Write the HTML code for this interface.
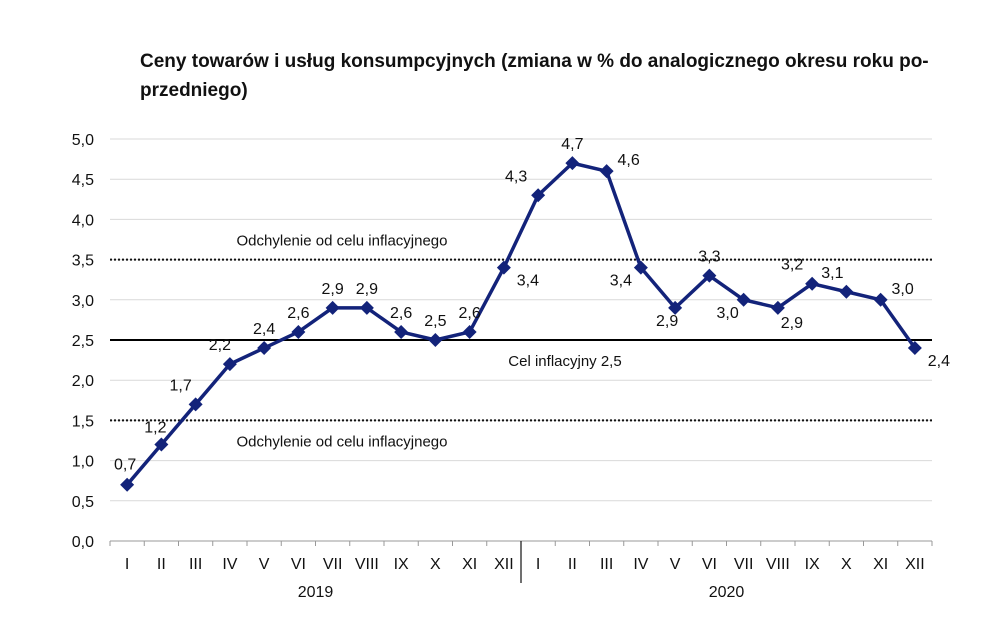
<!DOCTYPE html>
<html><head><meta charset="utf-8">
<style>
body{margin:0;background:#fff;font-family:"Liberation Sans",sans-serif;}
svg text{font-family:"Liberation Sans",sans-serif;}
</style></head>
<body>
<svg width="1000" height="626" viewBox="0 0 1000 626">
<text x="140" y="67" font-size="19" font-weight="bold" fill="#111">Ceny towarów i usług konsumpcyjnych (zmiana w % do analogicznego okresu roku po-</text>
<text x="140" y="96" font-size="19" font-weight="bold" fill="#111">przedniego)</text>
<g id="grid"></g>
<g id="plot"></g>
</svg>
<script>
const categories=["I","II","III","IV","V","VI","VII","VIII","IX","X","XI","XII","I","II","III","IV","V","VI","VII","VIII","IX","X","XI","XII"];
const values=[0.7,1.2,1.7,2.2,2.4,2.6,2.9,2.9,2.6,2.5,2.6,3.4,4.3,4.7,4.6,3.4,2.9,3.3,3.0,2.9,3.2,3.1,3.0,2.4];
const yTicks=[0,0.5,1,1.5,2,2.5,3,3.5,4,4.5,5];
const target=2.5, bandHigh=3.5, bandLow=1.5;
// label placement: [dx,dy]
const lblOff=[[-2,-15],[-6,-12],[-15,-14],[-10,-14],[0,-14],[0,-14],[0,-14],[0,-14],[0,-14],[0,-14],[0,-14],[24,18],
 [-22,-14],[0,-14],[22,-6],[-20,18],[-8,18],[0,-14],[-16,18],[14,20],[-20,-14],[-14,-14],[22,-6],[24,18]];
const NS="http://www.w3.org/2000/svg";
const L=110,R=932,T=139,B=541;
const bw=(R-L)/categories.length;
const x=i=>L+bw*(i+0.5);
const y=v=>B-(B-T)*v/5;
const grid=document.getElementById('grid'),plot=document.getElementById('plot');
function mk(tag,attrs,parent){const e=document.createElementNS(NS,tag);for(const k in attrs)e.setAttribute(k,attrs[k]);parent.appendChild(e);return e;}
yTicks.forEach(t=>{
 if(t>0){const g=mk('line',{x1:L,x2:R,y1:y(t),y2:y(t),stroke:'#d9d9d9','stroke-width':1},grid);
 
 }
 const tx=mk('text',{x:94,y:y(t)+6,'text-anchor':'end','font-size':16,fill:'#111'},grid);tx.textContent=t.toFixed(1).replace('.',',');
 
 
});
const ax=mk('line',{x1:L,x2:R,y1:B,y2:B,stroke:'#999','stroke-width':1},grid);


for(let i=0;i<=categories.length;i++){const tk=mk('line',{x1:L+bw*i,x2:L+bw*i,y1:B,y2:B+5,stroke:'#999'},grid);
 
 }
categories.forEach((c,i)=>{const t=mk('text',{x:x(i),y:B+28,'text-anchor':'middle','font-size':16,fill:'#111'},grid);t.textContent=c;
 
 });
const sep=mk('line',{x1:L+bw*12,x2:L+bw*12,y1:B,y2:B+42,stroke:'#111','stroke-width':1.2},grid);


[["2019",6],["2020",18]].forEach(([yr,c])=>{const t=mk('text',{x:L+bw*c,y:B+56,'text-anchor':'middle','font-size':16,fill:'#111'},grid);t.textContent=yr;
 
 });
[bandHigh,bandLow].forEach(v=>{const d=mk('line',{x1:L,x2:R,y1:y(v),y2:y(v),stroke:'#111','stroke-width':2,'stroke-dasharray':'2,2'},grid);
 
 });
const tl=mk('line',{x1:L,x2:R,y1:y(target),y2:y(target),stroke:'#000','stroke-width':2},grid);


const t1=mk('text',{x:342,y:y(bandHigh)-14,'text-anchor':'middle','font-size':15,fill:'#111'},grid);t1.textContent='Odchylenie od celu inflacyjnego';


const t2=mk('text',{x:342,y:y(bandLow)+26,'text-anchor':'middle','font-size':15,fill:'#111'},grid);t2.textContent='Odchylenie od celu inflacyjnego';


const t3=mk('text',{x:565,y:y(target)+26,'text-anchor':'middle','font-size':15,fill:'#111'},grid);t3.textContent='Cel inflacyjny 2,5';


const pl=mk('polyline',{points:values.map((v,i)=>x(i)+','+y(v)).join(' '),fill:'none',stroke:'#13237a','stroke-width':3.5,'stroke-linejoin':'round'},plot);


values.forEach((v,i)=>{
 const cx=x(i),cy=y(v);
 const m=mk('polygon',{points:`${cx},${cy-7} ${cx+7},${cy} ${cx},${cy+7} ${cx-7},${cy}`,fill:'#13237a'},plot);
 
 
 const t=mk('text',{x:cx+lblOff[i][0],y:cy+lblOff[i][1],'text-anchor':'middle','font-size':16,fill:'#111'},plot);
 t.textContent=v.toFixed(1).replace('.',',');
 
 
});
</script>
</body></html>
